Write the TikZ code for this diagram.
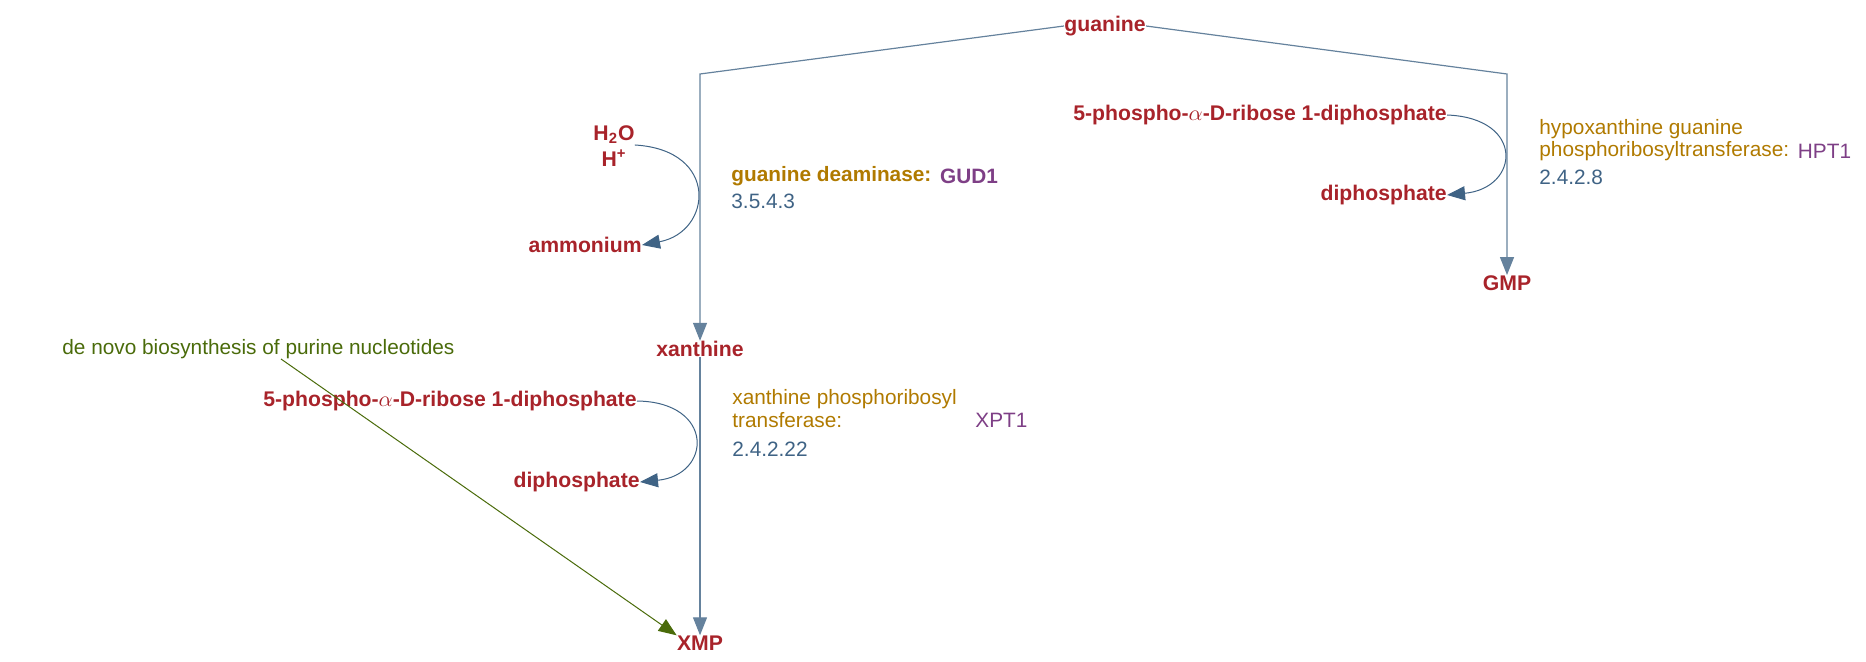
\documentclass[tikz,border=0pt]{standalone}
\usepackage{fontspec}
\setmainfont{Liberation Sans}
\usetikzlibrary{arrows.meta}
\definecolor{cpd}{HTML}{A8232A}
\definecolor{enz}{HTML}{B07A00}
\definecolor{gene}{HTML}{7E3F86}
\definecolor{ec}{HTML}{3F6385}
\definecolor{path}{HTML}{4A6B0A}
\begin{document}
\begin{tikzpicture}[x=0.5pt,y=-0.5pt,
  cp/.style={text=cpd,font=\bfseries\fontsize{10.6}{12}\selectfont,inner sep=0pt},
  en/.style={text=enz,font=\fontsize{10.4}{12}\selectfont,inner sep=0pt,anchor=west},
  ge/.style={text=gene,font=\fontsize{10.4}{12}\selectfont,inner sep=0pt,anchor=west},
  ecn/.style={text=ec,font=\fontsize{10.4}{12}\selectfont,inner sep=0pt,anchor=west},
  rx/.style={draw=ec!80!white,line width=0.6pt},
  arr/.style={-{Triangle[length=9pt,width=7pt]}},
  side/.style={draw=ec,line width=0.5pt,-{Triangle[length=9pt,width=7pt]}}]
\useasboundingbox (0,0) rectangle (1866,662);
% compounds
\node[cp] (gua) at (1105,26) {guanine};
\node[cp] (gmp) at (1507,283) {GMP};
\node[cp] (xan) at (700,349) {xanthine};
\node[cp] (xmp) at (700,643) {XMP};
\node[cp,align=center] (h2o) at (614,146) {H\textsubscript{2}O\\[1pt]H\textsuperscript{+}};
\node[cp,anchor=east] (amm) at (642,245) {ammonium};
\node[cp,anchor=east] (prpp1) at (1447,115) {5-phospho-$\alpha$-D-ribose 1-diphosphate};
\node[cp,anchor=east] (pp1) at (1447,195) {diphosphate};
\node[cp,anchor=east] (prpp2) at (637,401) {5-phospho-$\alpha$-D-ribose 1-diphosphate};
\node[cp,anchor=east] (pp2) at (640,482) {diphosphate};
% enzymes
\node[en,font=\bfseries\fontsize{10.4}{12}\selectfont] (gd) at (731,176) {guanine deaminase:};
\node[ge,font=\bfseries\fontsize{10.4}{12}\selectfont] (gud) at (gd.east) [xshift=4pt] {GUD1};
\node[ecn] (ec1) at (731,201) {3.5.4.3};
\node[en] (hg1) at (1539,129) {hypoxanthine guanine};
\node[en] (hg2) at (1539,151) {phosphoribosyltransferase:};
\node[ge] (hpt) at (hg2.east) [xshift=4pt] {HPT1};
\node[ecn] (ec2) at (1539,177) {2.4.2.8};
\node[en] (xp1) at (732,399) {xanthine phosphoribosyl};
\node[en] (xp2) at (732,420) {transferase:};
\node[ge] (xpt) at (975,420) {XPT1};
\node[ecn] (ec3) at (732,449) {2.4.2.22};
\node[text=path,font=\fontsize{10.4}{12}\selectfont,inner sep=0pt,anchor=west] (dn) at (62,349) {de novo biosynthesis of purine nucleotides};
% reactions
\coordinate (lc) at (700,74);
\coordinate (rc) at (1507,74);
\draw[rx,arr] (gua.west) -- (lc) -- (xan.north);
\draw[rx,arr] (gua.east) -- (rc) -- (gmp.north);
\draw[rx,arr] (xan.south) -- (xmp.north);
\draw[side] (h2o.east|-0,145) .. controls (720,150) and (712,232) .. (amm.east);
\draw[side] (prpp1.east) .. controls (1525,118) and (1520,188) .. (pp1.east);
\draw[side] (prpp2.east) .. controls (715,402) and (712,475) .. (pp2.east);
\coordinate (dnp) at (281,359);
\draw[draw=path,line width=0.5pt,-{Triangle[length=9pt,width=7pt]}] (dnp) -- (xmp.north west);
\end{tikzpicture}
\end{document}
